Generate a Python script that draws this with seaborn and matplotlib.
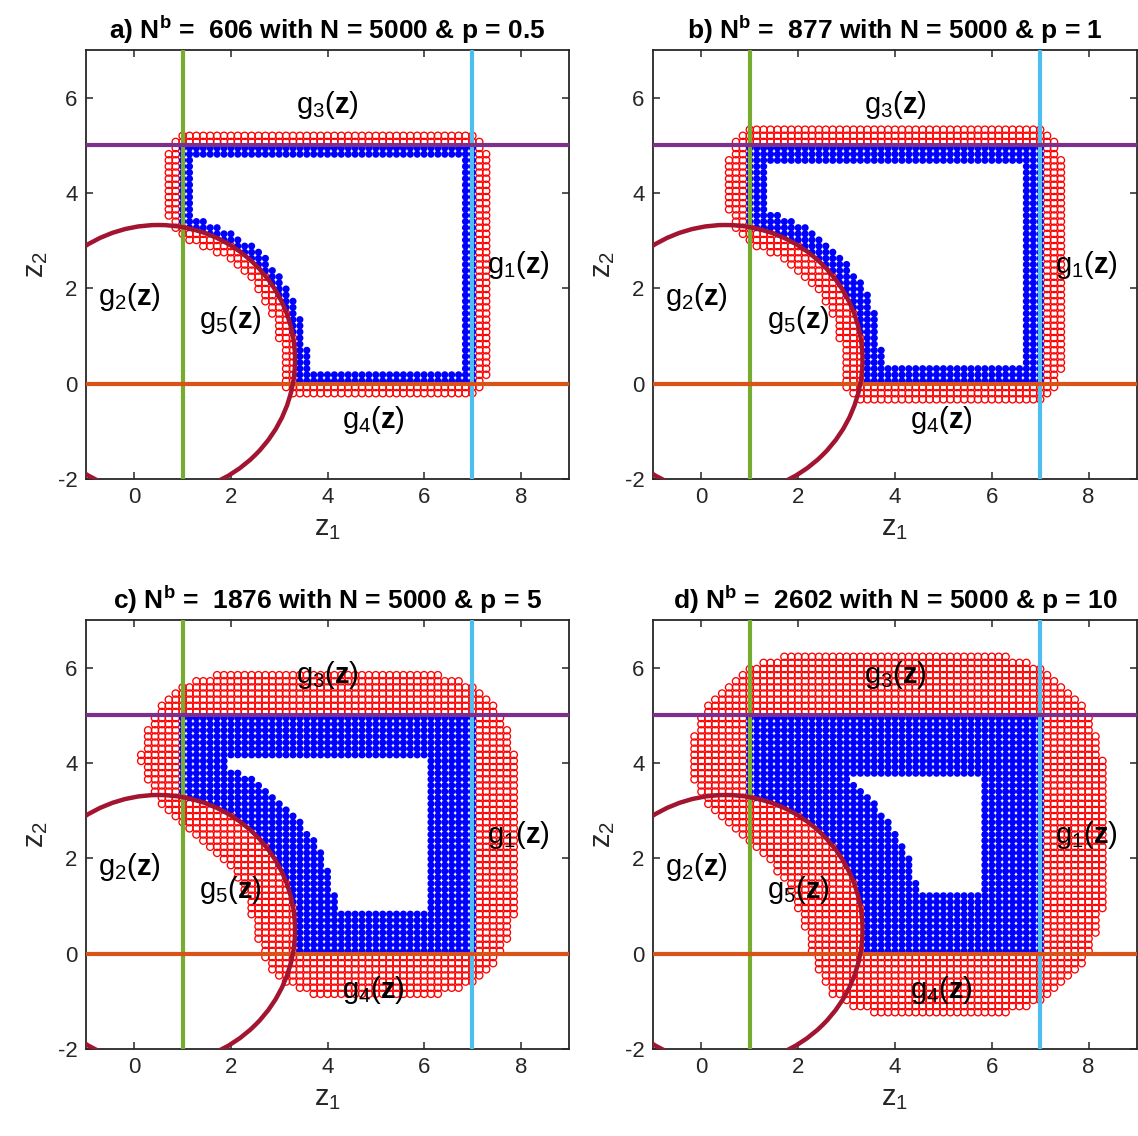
import numpy as np
import pandas as pd
import matplotlib
matplotlib.use("Agg")
import matplotlib.pyplot as plt
from matplotlib.patches import Circle
import seaborn as sns

# ---- panel settings ----
panel_tags = ["a", "b", "c", "d"]
p_values = ["0.5", "1", "5", "10"]
nb_values = [606, 877, 1876, 2602]
n_total = 5000
inner_reach = [0.25, 0.40, 0.90, 1.25]   # band depth inside the feasible set
outer_reach = [0.30, 0.44, 0.88, 1.30]   # band depth outside the feasible set
outer_round = [0.25, 0.40, 1.00, 1.20]   # corner rounding of the outer band

# ---- constraints ----
g1_z1 = 7.0              # z1 <= 7
g2_z1 = 1.0              # z1 >= 1
g3_z2 = 5.0              # z2 <= 5
g4_z2 = 0.0              # z2 >= 0
g5_center = (0.5, 0.5)   # outside of the circle
g5_radius = np.sqrt(8.0)

# ---- candidate grid (71 x 71 over the plotted window) ----
z1_lo, z1_hi = -1.0, 9.0
z2_lo, z2_hi = -2.0, 7.0
grid_n = 71

# ---- label placement ----
label_text = [r"$\mathrm{g}_1(\mathbf{z})$", r"$\mathrm{g}_2(\mathbf{z})$",
              r"$\mathrm{g}_3(\mathbf{z})$", r"$\mathrm{g}_4(\mathbf{z})$",
              r"$\mathrm{g}_5(\mathbf{z})$"]
label_z1 = [7.95, -0.1, 4.0, 4.95, 2.0]
label_z2 = [2.48, 1.81, 5.84, -0.77, 1.33]

col_g1 = "#4DBEEE"
col_g2 = "#77AC30"
col_g3 = "#7E2F8E"
col_g4 = "#D95319"
col_g5 = "#A2142F"

sns.set_theme(style="ticks")
plt.rcParams["font.family"] = ["Liberation Sans", "DejaVu Sans"]
plt.rcParams["mathtext.fontset"] = "custom"
plt.rcParams["mathtext.rm"] = "Liberation Sans"
plt.rcParams["mathtext.it"] = "Liberation Sans:italic"
plt.rcParams["mathtext.bf"] = "Liberation Sans:bold"
plt.rcParams["axes.unicode_minus"] = False

# grid points
z1_grid = np.linspace(z1_lo, z1_hi, grid_n)
z2_grid = np.linspace(z2_lo, z2_hi, grid_n)
Z1, Z2 = np.meshgrid(z1_grid, z2_grid)
pts = np.column_stack([Z1.ravel(), Z2.ravel()])
cx, cy = g5_center
eps = 1e-9

# signed constraint distances (positive = violated)
viol = np.column_stack([
    pts[:, 0] - g1_z1,
    g2_z1 - pts[:, 0],
    pts[:, 1] - g3_z2,
    g4_z2 - pts[:, 1],
    g5_radius - np.hypot(pts[:, 0] - cx, pts[:, 1] - cy),
])
feasible = (viol <= eps).all(axis=1)

# boundary of the feasible set, sampled finely
ds = 0.004


def segment(a, b):
    n = int(np.ceil(np.hypot(b[0] - a[0], b[1] - a[1]) / ds)) + 1
    t = np.linspace(0.0, 1.0, n)
    return np.column_stack([a[0] + t * (b[0] - a[0]), a[1] + t * (b[1] - a[1])])


yc = cy + np.sqrt(g5_radius ** 2 - (g2_z1 - cx) ** 2)
xc = cx + np.sqrt(g5_radius ** 2 - (g4_z2 - cy) ** 2)
th0 = np.arctan2(g4_z2 - cy, xc - cx)
th1 = np.arctan2(yc - cy, g2_z1 - cx)
th = np.linspace(th0, th1, int(g5_radius * (th1 - th0) / ds) + 1)
boundary = np.vstack([
    segment((g2_z1, yc), (g2_z1, g3_z2)),
    segment((g2_z1, g3_z2), (g1_z1, g3_z2)),
    segment((g1_z1, g3_z2), (g1_z1, g4_z2)),
    segment((g1_z1, g4_z2), (xc, g4_z2)),
    np.column_stack([cx + g5_radius * np.cos(th), cy + g5_radius * np.sin(th)]),
])

# depth of feasible points below the boundary
dist = np.empty(len(pts))
for i in range(0, len(pts), 400):
    chunk = pts[i:i + 400]
    d = np.hypot(chunk[:, None, 0] - boundary[None, :, 0],
                 chunk[:, None, 1] - boundary[None, :, 1])
    dist[i:i + 400] = d.min(axis=1)


def outer_measure(s):
    """Aggregated violation with rounded corners."""
    return np.sqrt((np.clip(viol + s, 0, None) ** 2).sum(axis=1)) - s


fig = plt.figure(figsize=(11.38, 11.36), dpi=100)
W, H = 1138.0, 1136.0
boxes = [(86, 50, 569, 479), (653, 50, 1137, 479),
         (86, 620, 569, 1049), (653, 620, 1137, 1049)]

for k, tag in enumerate(panel_tags):
    x0, y0, x1, y1 = boxes[k]
    ax = fig.add_axes([x0 / W, 1 - y1 / H, (x1 - x0) / W, (y1 - y0) / H])
    blue = feasible & (dist <= inner_reach[k] + eps)
    red = (~feasible) & (outer_measure(outer_round[k]) <= outer_reach[k] + eps)
    df_in = pd.DataFrame({"z1": pts[blue, 0], "z2": pts[blue, 1]})
    df_out = pd.DataFrame({"z1": pts[red, 0], "z2": pts[red, 1]})
    sns.scatterplot(data=df_out, x="z1", y="z2", ax=ax, marker="o", s=27,
                    color="red", facecolor="none", edgecolor="red",
                    linewidth=0.95, zorder=2)
    sns.scatterplot(data=df_in, x="z1", y="z2", ax=ax, marker="o", s=26,
                    color="blue", edgecolor="none", linewidth=0, zorder=2)

    ax.axvline(g2_z1, color=col_g2, lw=3, zorder=3)
    ax.axvline(g1_z1, color=col_g1, lw=3, zorder=3)
    ax.axhline(g3_z2, color=col_g3, lw=3, zorder=3)
    ax.axhline(g4_z2, color=col_g4, lw=3, zorder=3)
    ax.add_patch(Circle(g5_center, g5_radius, fill=False, edgecolor=col_g5,
                        lw=3.2, zorder=4))

    for txt, lx, ly in zip(label_text, label_z1, label_z2):
        ax.text(lx, ly, txt, fontsize=21, ha="center", va="center",
                color="black", zorder=5)

    ax.set_xlim(-1, 9)
    ax.set_ylim(-2, 7)
    ax.set_xticks([0, 2, 4, 6, 8])
    ax.set_yticks([-2, 0, 2, 4, 6])
    ax.tick_params(direction="in", top=True, right=True, length=5, width=1.1,
                   labelsize=16, colors="#262626", pad=6)
    for sp in ax.spines.values():
        sp.set_visible(True)
        sp.set_color("#262626")
        sp.set_linewidth(1.3)
    ax.set_xlabel(r"$\mathrm{z}_1$", fontsize=21, color="#262626", labelpad=4)
    ax.set_ylabel(r"$\mathrm{z}_2$", fontsize=21, color="#262626", labelpad=6)
    ax.set_title(f"{tag}) N$^{{\\mathbf{{b}}}}$ =  {nb_values[k]} with N = {n_total} & p = {p_values[k]}",
                 fontsize=19, fontweight="bold", color="black", pad=8)

fig.savefig("out.png", dpi=100)
